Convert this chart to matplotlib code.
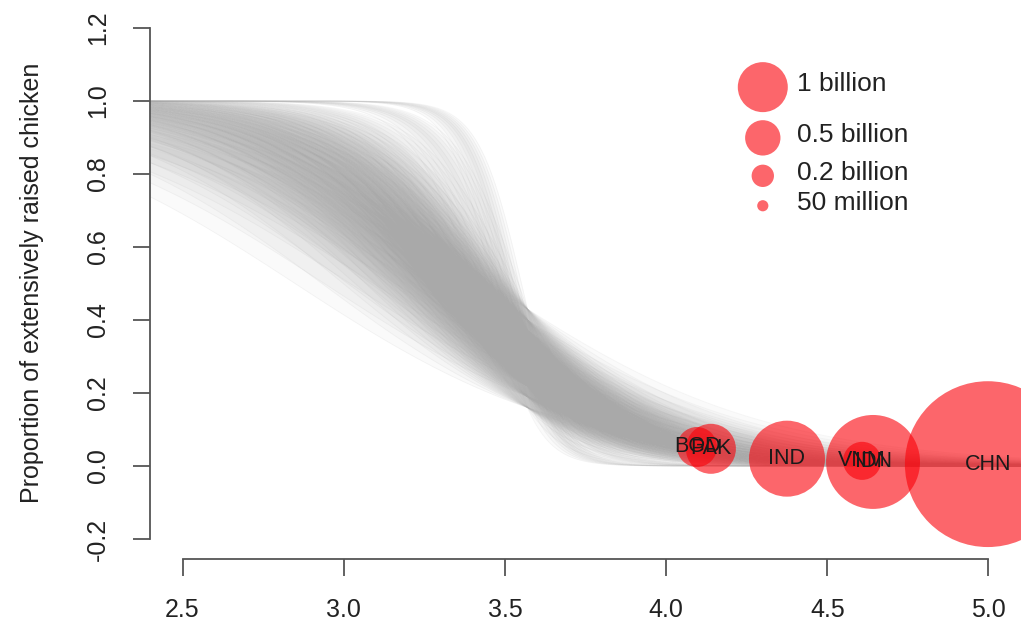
import matplotlib.pyplot as plt
import numpy as np
from matplotlib.collections import LineCollection

plt.rcParams['font.family'] = ['Liberation Sans', 'DejaVu Sans']

# bootstrap logistic fits: slope of each fit and its value at the pivot
curve_slopes = [2.3, 2.6, 2.9, 3.1, 3.3, 3.5, 3.7, 3.9, 4.1, 4.3,
                4.6, 4.9, 5.3, 5.8, 7.0, 10.0, 15.0]
pivot_levels = [0.16, 0.19, 0.22, 0.25, 0.28, 0.31, 0.34, 0.37, 0.40, 0.43]
pivot_x = 3.57

# countries (chicken numbers in billions)
countries = ['BGD', 'PAK', 'IND', 'VNM', 'IDN', 'CHN']
country_x = [4.096, 4.139, 4.375, 4.608, 4.642, 4.998]
country_y = [0.052, 0.047, 0.020, 0.014, 0.011, 0.005]
chickens_bn = [0.64, 1.0, 2.31, 0.58, 3.53, 11.0]

legend_labels = ['1 billion', '0.5 billion', '0.2 billion', '50 million']
legend_bn = [1.0, 0.5, 0.2, 0.05]


def logistic(xx, slope, level):
    L = np.log(level / (1 - level))
    return 1 / (1 + np.exp(-(L - slope * (xx - pivot_x))))


fig = plt.figure(figsize=(10.21, 6.26), dpi=100)
ax = fig.add_axes([0.1472, 0.1064, 0.8525, 0.8815])
ax.set_xlim(2.4, 5.1)
ax.set_ylim(-0.256, 1.256)

xs = np.linspace(2.4, 5.1, 400)
grey = '#a9a9a9'
n = len(pivot_levels)
# nested bands so the middle of the bootstrap cloud gets darker
for b in curve_slopes:
    for i in range(n // 2):
        ax.fill_between(xs, logistic(xs, b, pivot_levels[i]),
                        logistic(xs, b, pivot_levels[n - 1 - i]),
                        color=grey, alpha=0.055, lw=0, zorder=1)
segs = []
for b in curve_slopes:
    for lv in pivot_levels:
        segs.append(np.column_stack([xs, logistic(xs, b, lv)]))
ax.add_collection(LineCollection(segs, colors=grey, alpha=0.1, linewidths=0.6, zorder=1))

# bubbles: area proportional to number of chickens
scale = 1296
ax.scatter(country_x, country_y, s=[scale * c for c in chickens_bn],
           color=(0.98, 0.0, 0.03, 0.6), edgecolors='none', zorder=2)
for name, cx, cy in zip(countries, country_x, country_y):
    ax.text(cx, cy, name, ha='center', va='center', fontsize=15.5, color='#1a1a1a', zorder=3)

# size legend
leg_y = [1.038, 0.899, 0.795, 0.713]
ax.scatter([4.30] * 4, leg_y, s=[scale * v for v in legend_bn],
           color=(0.98, 0.0, 0.03, 0.6), edgecolors='none', zorder=2)
for lab, ly in zip(legend_labels, leg_y):
    ax.text(4.405, ly + 0.008, lab, ha='left', va='center', fontsize=19, color='#222222')

# R style axes
for s in ['top', 'right']:
    ax.spines[s].set_visible(False)
ax.spines['left'].set_bounds(-0.2, 1.2)
ax.spines['bottom'].set_bounds(2.5, 5.0)
for s in ['left', 'bottom']:
    ax.spines[s].set_color('#555555')
    ax.spines[s].set_linewidth(1.3)

ax.set_xticks([2.5, 3.0, 3.5, 4.0, 4.5, 5.0])
ax.set_xticklabels(['2.5', '3.0', '3.5', '4.0', '4.5', '5.0'])
ax.set_yticks([-0.2, 0.0, 0.2, 0.4, 0.6, 0.8, 1.0, 1.2])
ax.set_yticklabels(['-0.2', '0.0', '0.2', '0.4', '0.6', '0.8', '1.0', '1.2'],
                   rotation=90, va='center')
ax.tick_params(direction='out', length=12, width=1.3, color='#555555',
               labelsize=18, labelcolor='#222222')
ax.tick_params(axis='x', pad=16)
ax.tick_params(axis='y', pad=17)

fig.text(32 / 1021, 1 - 283 / 626, 'Proportion of extensively raised chicken',
         rotation=90, ha='center', va='center', fontsize=18, color='#222222')

fig.savefig('out.png', dpi=100)
